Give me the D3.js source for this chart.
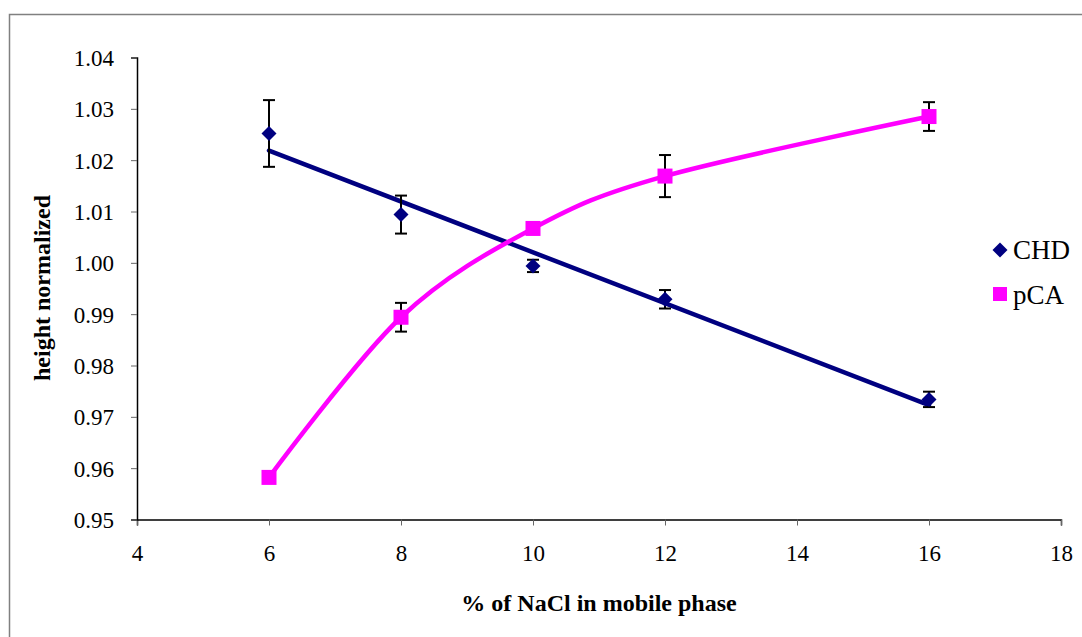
<!DOCTYPE html>
<html lang="en">
<head>
<meta charset="UTF-8">
<title>height normalized vs NaCl</title>
<script src="https://cdn.jsdelivr.net/npm/d3@7"></script>
<style>
  body { margin: 0; background: #fff; }
  text { font-family: "Liberation Serif", "Times New Roman", serif; fill: #000; }
</style>
</head>
<body>
<svg id="chart" width="1082" height="637"></svg>
<script>
// data
var nacl = [6, 8, 10, 12, 16];
var chd = [1.0252, 1.0094, 0.9994, 0.9929, 0.9734];
var chdErr = [0.0065, 0.0037, 0.0012, 0.0018, 0.0015];
var pca = [0.9582, 0.9894, 1.0067, 1.0169, 1.0285];
var pcaErr = [0, 0.0028, 0, 0.0041, 0.0028];
var xTicks = [4, 6, 8, 10, 12, 14, 16, 18];
var yTicks = [0.95, 0.96, 0.97, 0.98, 0.99, 1.00, 1.01, 1.02, 1.03, 1.04];

var svg = d3.select("#chart");

// outer chart frame (right/bottom edges fall outside the picture)
svg.append("rect")
    .attr("x", 9.5).attr("y", 14.5)
    .attr("width", 1100).attr("height", 700)
    .attr("fill", "none").attr("stroke", "#808080").attr("stroke-width", 1.5);

var margin = { left: 137, top: 57.5, right: 1061, bottom: 519.5 };

var x = d3.scaleLinear().domain([4, 18]).range([margin.left, margin.right]);
var y = d3.scaleLinear().domain([0.95, 1.04]).range([margin.bottom, margin.top]);

// axes
var xAxis = svg.append("g")
    .attr("transform", "translate(0," + margin.bottom + ")")
    .call(d3.axisBottom(x).tickValues(xTicks).tickSize(6).tickPadding(19).tickFormat(d3.format("d")));
var yAxis = svg.append("g")
    .attr("transform", "translate(" + margin.left + ",0)")
    .call(d3.axisLeft(y).tickValues(yTicks).tickSize(6).tickPadding(17).tickFormat(d3.format(".2f")));

[xAxis, yAxis].forEach(function (a) {
    a.select(".domain").attr("stroke", "#000").attr("stroke-width", 1.5);
    a.selectAll(".tick line").attr("stroke", "#666");
    a.selectAll(".tick text")
        .style("font-family", "'Liberation Serif', serif")
        .style("font-size", "23px")
        .attr("fill", "#000");
});
yAxis.selectAll(".tick text").attr("dy", "0.35em");

// axis titles
svg.append("text")
    .attr("x", 599).attr("y", 611)
    .attr("text-anchor", "middle")
    .style("font-size", "24px").style("font-weight", "bold")
    .text("% of NaCl in mobile phase");

svg.append("text")
    .attr("transform", "translate(50,288) rotate(-90)")
    .attr("text-anchor", "middle")
    .style("font-size", "24px").style("font-weight", "bold")
    .text("height normalized");

// linear trend for CHD
var mx = d3.mean(nacl), my = d3.mean(chd);
var slope = d3.sum(nacl, function (d, i) { return (d - mx) * (chd[i] - my); }) /
            d3.sum(nacl, function (d) { return (d - mx) * (d - mx); });
var icpt = my - slope * mx;
var x0 = d3.min(nacl), x1 = d3.max(nacl);

svg.append("line")
    .attr("x1", x(x0)).attr("y1", y(icpt + slope * x0))
    .attr("x2", x(x1)).attr("y2", y(icpt + slope * x1))
    .attr("stroke", "#000080").attr("stroke-width", 4.5).attr("stroke-linecap", "round");

// smoothed line for pCA
var pcaPts = nacl.map(function (d, i) { return [d, pca[i]]; });
svg.append("path")
    .datum(pcaPts)
    .attr("fill", "none")
    .attr("stroke", "#FF00FF")
    .attr("stroke-width", 4.5)
    .attr("d", d3.line()
        .x(function (d) { return x(d[0]); })
        .y(function (d) { return y(d[1]); })
        .curve(d3.curveCardinal.tension(0)));

// error bars
function errorBars(vals, errs) {
    var g = svg.append("g").attr("stroke", "#000").attr("stroke-width", 2);
    nacl.forEach(function (d, i) {
        if (!errs[i]) return;
        var cx = x(d), top = y(vals[i] + errs[i]), bot = y(vals[i] - errs[i]);
        g.append("line").attr("x1", cx).attr("x2", cx).attr("y1", top).attr("y2", bot);
        g.append("line").attr("x1", cx - 6).attr("x2", cx + 6).attr("y1", top).attr("y2", top);
        g.append("line").attr("x1", cx - 6).attr("x2", cx + 6).attr("y1", bot).attr("y2", bot);
    });
}
errorBars(chd, chdErr);
errorBars(pca, pcaErr);

// markers
var diamond = "M0,-7.5L7.5,0L0,7.5L-7.5,0Z";
svg.append("g").selectAll("path")
    .data(nacl)
    .enter().append("path")
    .attr("d", diamond)
    .attr("transform", function (d, i) { return "translate(" + x(d) + "," + y(chd[i]) + ")"; })
    .attr("fill", "#000080");

svg.append("g").selectAll("rect")
    .data(nacl)
    .enter().append("rect")
    .attr("x", function (d) { return x(d) - 7.5; })
    .attr("y", function (d, i) { return y(pca[i]) - 7.5; })
    .attr("width", 15).attr("height", 15)
    .attr("fill", "#FF00FF");

// legend
var legend = svg.append("g");
legend.append("path").attr("d", diamond).attr("transform", "translate(1000,250)").attr("fill", "#000080");
legend.append("text").attr("x", 1013).attr("y", 259).style("font-size", "27px").text("CHD");
legend.append("rect").attr("x", 993).attr("y", 287).attr("width", 14).attr("height", 14).attr("fill", "#FF00FF");
legend.append("text").attr("x", 1013).attr("y", 304).style("font-size", "27px").text("pCA");
</script>
</body>
</html>
